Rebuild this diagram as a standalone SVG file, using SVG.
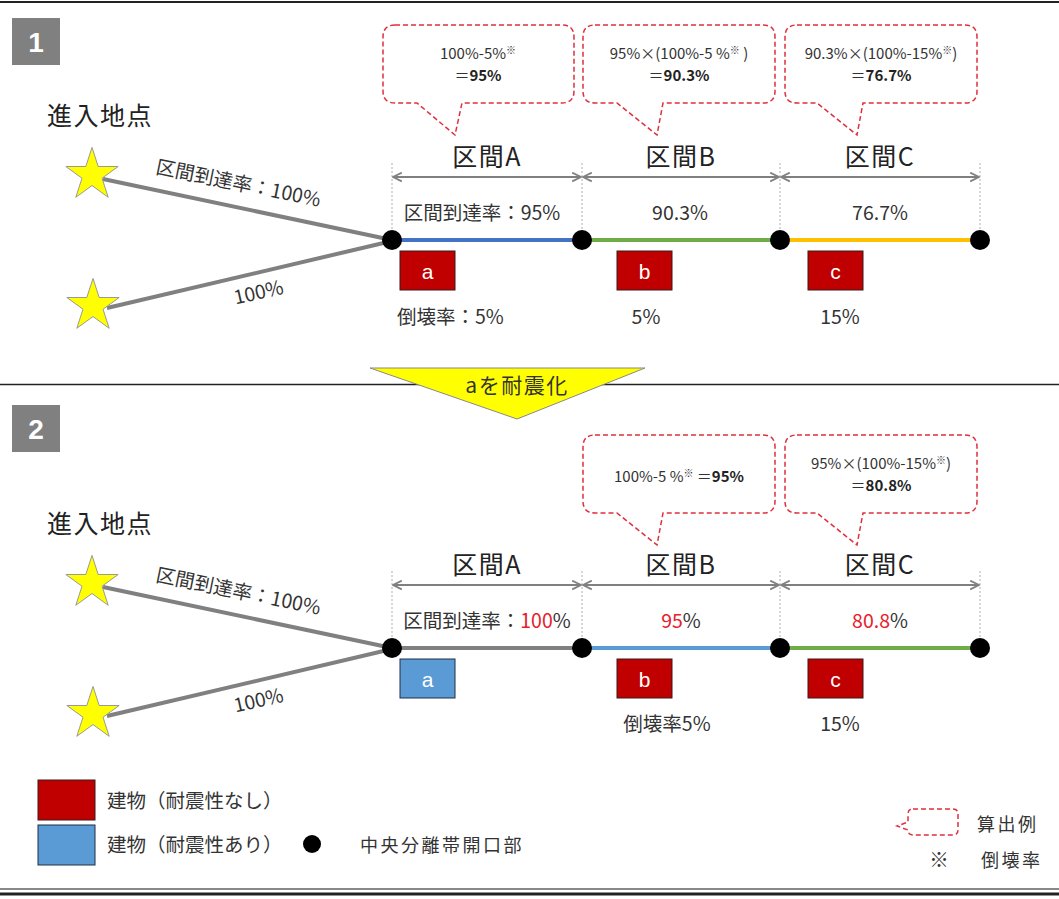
<svg xmlns="http://www.w3.org/2000/svg" width="1059" height="899" viewBox="0 0 1059 899">
<style>
text{font-family:"Noto Sans CJK JP","Noto Sans",sans-serif;fill:#333}
.big{font-size:25px;fill:#222;letter-spacing:1.5px}
.lbl{font-size:19.5px}
.co{font-size:15px}
.b{font-weight:bold;fill:#222}
.red{fill:#e8202a}
.leg{font-size:18px;letter-spacing:2.5px}
.callout{fill:#fff;stroke:#e0303c;stroke-width:1.5;stroke-dasharray:5 3}
.road{stroke-width:4;fill:none}
.dim{stroke:#808080;stroke-width:2;fill:none;marker-start:url(#chev);marker-end:url(#chev)}
.guide{stroke:#999;stroke-width:0.8;stroke-dasharray:2 2}
.star{fill:#ffff00;stroke:#999;stroke-width:1}
.node{fill:#000}
.bred{fill:#c00000;stroke:#3a1a1a;stroke-width:1}
.bblue{fill:#5b9bd5;stroke:#1f2f44;stroke-width:1}
.bl{font-size:21px;fill:#fff;font-family:"Liberation Sans",sans-serif}
.numbox{fill:#808080}
.num{font-size:28px;font-weight:bold;fill:#fff;font-family:"Liberation Sans",sans-serif}
</style>
<defs>
<marker id="chev" viewBox="0 0 10 10" refX="9" refY="5" markerWidth="11" markerHeight="11" markerUnits="userSpaceOnUse" orient="auto-start-reverse">
<path d="M1,1 L9,5 L1,9" fill="none" stroke="#808080" stroke-width="1.6"/>
</marker>
<polygon id="starshape" points="0,-27.6 6.2,-8.5 26.2,-8.5 10,3.2 16.2,22.3 0,10.5 -16.2,22.3 -10,3.2 -26.2,-8.5 -6.2,-8.5"/>
</defs>

<!-- frame lines -->
<g id="frame">
<line x1="0" y1="2" x2="1059" y2="2" stroke="#222" stroke-width="2"/>
<line x1="0" y1="384.5" x2="1059" y2="384.5" stroke="#222" stroke-width="1.5"/>
<line x1="0" y1="889" x2="1059" y2="889" stroke="#888" stroke-width="2"/>
<line x1="0" y1="894" x2="1059" y2="894" stroke="#222" stroke-width="3"/>
</g>

<!-- ===== Panel 1 ===== -->
<g id="panel1-label">
<rect class="numbox" x="12" y="18" width="48" height="47"/>
<text class="num" x="36" y="52" text-anchor="middle">1</text>
<text class="big" x="47" y="125">進入地点</text>
</g>

<g id="connectors1">
<line x1="103" y1="179" x2="392" y2="240" stroke="#808080" class="road"/>
<line x1="107" y1="308" x2="392" y2="241" stroke="#808080" class="road"/>
<line x1="392" y1="240" x2="582" y2="240" stroke="#4472c4" class="road"/>
<line x1="582" y1="240" x2="780" y2="240" stroke="#70ad47" class="road"/>
<line x1="780" y1="240" x2="980" y2="240" stroke="#ffc000" class="road"/>
<line class="guide" x1="392" y1="163" x2="392" y2="240"/>
<line class="guide" x1="582" y1="163" x2="582" y2="240"/>
<line class="guide" x1="780" y1="163" x2="780" y2="240"/>
<line class="guide" x1="980" y1="163" x2="980" y2="240"/>
<line class="dim" x1="393" y1="177" x2="581" y2="177"/>
<line class="dim" x1="583" y1="177" x2="779" y2="177"/>
<line class="dim" x1="781" y1="177" x2="979" y2="177"/>
<text class="lbl" transform="translate(237,190) rotate(11.6)" text-anchor="middle">区間到達率：100%</text>
<text class="lbl" transform="translate(260,299) rotate(-12.7)" text-anchor="middle">100%</text>
</g>

<g id="stars1">
<use href="#starshape" class="star" x="92" y="175"/>
<use href="#starshape" class="star" x="93" y="306"/>
</g>

<g id="nodes1">
<circle class="node" cx="392" cy="240" r="10"/>
<circle class="node" cx="582" cy="240" r="10"/>
<circle class="node" cx="780" cy="240" r="10"/>
<circle class="node" cx="980" cy="240" r="10"/>
</g>

<g id="sections1">
<text class="big" x="487" y="166" text-anchor="middle">区間A</text>
<text class="big" x="681" y="166" text-anchor="middle">区間B</text>
<text class="big" x="880" y="166" text-anchor="middle">区間C</text>
<text class="lbl" x="482" y="220" text-anchor="middle">区間到達率：95%</text>
<text class="lbl" x="680" y="220" text-anchor="middle">90.3%</text>
<text class="lbl" x="880" y="220" text-anchor="middle">76.7%</text>
</g>

<g id="buildings1">
<rect class="bred" x="400" y="251" width="55" height="39"/>
<text class="bl" x="427.5" y="279" text-anchor="middle">a</text>
<rect class="bred" x="617" y="251" width="55" height="39"/>
<text class="bl" x="644.5" y="279" text-anchor="middle">b</text>
<rect class="bred" x="808" y="251" width="55" height="39"/>
<text class="bl" x="835.5" y="279" text-anchor="middle">c</text>
<text class="lbl" x="397" y="324">倒壊率：5%</text>
<text class="lbl" x="646" y="324" text-anchor="middle">5%</text>
<text class="lbl" x="840" y="324" text-anchor="middle">15%</text>
</g>

<g id="callout1a">
<path class="callout" d="M395,25 H562 Q574,25 574,37 V91 Q574,103 562,103 H462 L455,135 L417,103 H395 Q383,103 383,91 V37 Q383,25 395,25 Z"/>
<text class="co" x="478" y="59" text-anchor="middle">100%-5%<tspan font-size="10" dy="-5">※</tspan></text>
<text class="co" x="478" y="81" text-anchor="middle">＝<tspan class="b">95%</tspan></text>
</g>
<g id="callout1b">
<path class="callout" d="M595,25 H763 Q775,25 775,37 V91 Q775,103 763,103 H663 L657,135 L617,103 H595 Q583,103 583,91 V37 Q583,25 595,25 Z"/>
<text class="co" x="679" y="59" text-anchor="middle">95%×(100%-5 %<tspan font-size="10" dy="-5">※</tspan><tspan dy="5"> )</tspan></text>
<text class="co" x="679" y="81" text-anchor="middle">＝<tspan class="b">90.3%</tspan></text>
</g>
<g id="callout1c">
<path class="callout" d="M797,25 H965 Q977,25 977,37 V91 Q977,103 965,103 H863 L857,135 L817,103 H797 Q785,103 785,91 V37 Q785,25 797,25 Z"/>
<text class="co" x="881" y="59" text-anchor="middle">90.3%×(100%-15%<tspan font-size="10" dy="-5">※</tspan><tspan dy="5">)</tspan></text>
<text class="co" x="881" y="81" text-anchor="middle">＝<tspan class="b">76.7%</tspan></text>
</g>

<!-- transition arrow -->
<g id="transition">
<polygon points="370,368 645,368 517,419" fill="#ffff00" stroke="#888" stroke-width="1"/>
<text x="517" y="393" text-anchor="middle" font-size="21" letter-spacing="1.5" fill="#222">aを耐震化</text>
</g>

<!-- ===== Panel 2 ===== -->
<g id="panel2-label">
<rect class="numbox" x="12" y="405" width="48" height="47"/>
<text class="num" x="36" y="439" text-anchor="middle">2</text>
<text class="big" x="47" y="533">進入地点</text>
</g>

<g id="connectors2">
<line x1="103" y1="587" x2="392" y2="648" stroke="#808080" class="road"/>
<line x1="107" y1="716" x2="392" y2="649" stroke="#808080" class="road"/>
<line x1="392" y1="648" x2="582" y2="648" stroke="#808080" class="road"/>
<line x1="582" y1="648" x2="780" y2="648" stroke="#5b9bd5" class="road"/>
<line x1="780" y1="648" x2="980" y2="648" stroke="#70ad47" class="road"/>
<line class="guide" x1="392" y1="571" x2="392" y2="648"/>
<line class="guide" x1="582" y1="571" x2="582" y2="648"/>
<line class="guide" x1="780" y1="571" x2="780" y2="648"/>
<line class="guide" x1="980" y1="571" x2="980" y2="648"/>
<line class="dim" x1="393" y1="585" x2="581" y2="585"/>
<line class="dim" x1="583" y1="585" x2="779" y2="585"/>
<line class="dim" x1="781" y1="585" x2="979" y2="585"/>
<text class="lbl" transform="translate(237,598) rotate(11.6)" text-anchor="middle">区間到達率：100%</text>
<text class="lbl" transform="translate(260,707) rotate(-12.7)" text-anchor="middle">100%</text>
</g>

<g id="stars2">
<use href="#starshape" class="star" x="92" y="583"/>
<use href="#starshape" class="star" x="93" y="714"/>
</g>

<g id="nodes2">
<circle class="node" cx="392" cy="648" r="10"/>
<circle class="node" cx="582" cy="648" r="10"/>
<circle class="node" cx="780" cy="648" r="10"/>
<circle class="node" cx="980" cy="648" r="10"/>
</g>

<g id="sections2">
<text class="big" x="487" y="574" text-anchor="middle">区間A</text>
<text class="big" x="681" y="574" text-anchor="middle">区間B</text>
<text class="big" x="880" y="574" text-anchor="middle">区間C</text>
<text class="lbl" x="487" y="628" text-anchor="middle">区間到達率：<tspan class="red">100</tspan>%</text>
<text class="lbl" x="681" y="628" text-anchor="middle"><tspan class="red">95</tspan>%</text>
<text class="lbl" x="880" y="628" text-anchor="middle"><tspan class="red">80.8</tspan>%</text>
</g>

<g id="buildings2">
<rect class="bblue" x="400" y="659" width="55" height="39"/>
<text class="bl" x="427.5" y="687" text-anchor="middle">a</text>
<rect class="bred" x="617" y="659" width="55" height="39"/>
<text class="bl" x="644.5" y="687" text-anchor="middle">b</text>
<rect class="bred" x="808" y="659" width="55" height="39"/>
<text class="bl" x="835.5" y="687" text-anchor="middle">c</text>
<text class="lbl" x="667" y="731" text-anchor="middle">倒壊率5%</text>
<text class="lbl" x="840" y="731" text-anchor="middle">15%</text>
</g>

<g id="callout2b">
<path class="callout" d="M595,435 H763 Q775,435 775,447 V501 Q775,513 763,513 H663 L657,545 L617,513 H595 Q583,513 583,501 V447 Q583,435 595,435 Z"/>
<text class="co" x="679" y="482" text-anchor="middle">100%-5 %<tspan font-size="10" dy="-5">※</tspan><tspan dy="5"> ＝</tspan><tspan class="b">95%</tspan></text>
</g>
<g id="callout2c">
<path class="callout" d="M797,435 H965 Q977,435 977,447 V501 Q977,513 965,513 H863 L857,545 L817,513 H797 Q785,513 785,501 V447 Q785,435 797,435 Z"/>
<text class="co" x="881" y="469" text-anchor="middle">95%×(100%-15%<tspan font-size="10" dy="-5">※</tspan><tspan dy="5">)</tspan></text>
<text class="co" x="881" y="491" text-anchor="middle">＝<tspan class="b">80.8%</tspan></text>
</g>

<!-- ===== Legend ===== -->
<g id="legend">
<rect class="bred" x="38" y="780" width="57" height="40"/>
<text class="lbl" x="107" y="808">建物（耐震性なし）</text>
<rect class="bblue" x="38" y="825" width="57" height="40"/>
<text class="lbl" x="107" y="852">建物（耐震性あり）</text>
<circle class="node" cx="312" cy="844" r="9"/>
<text class="leg" x="360" y="852">中央分離帯開口部</text>
<path class="callout" d="M913,809 H953 Q958,809 958,814 V830 Q958,835 953,835 H913 Q908,835 908,830 L897,826 L908,822 V814 Q908,809 913,809 Z"/>
<text class="leg" x="977" y="831">算出例</text>
<text class="lbl" x="939" y="867" text-anchor="middle">※</text>
<text class="leg" x="981" y="867">倒壊率</text>
</g>
</svg>
